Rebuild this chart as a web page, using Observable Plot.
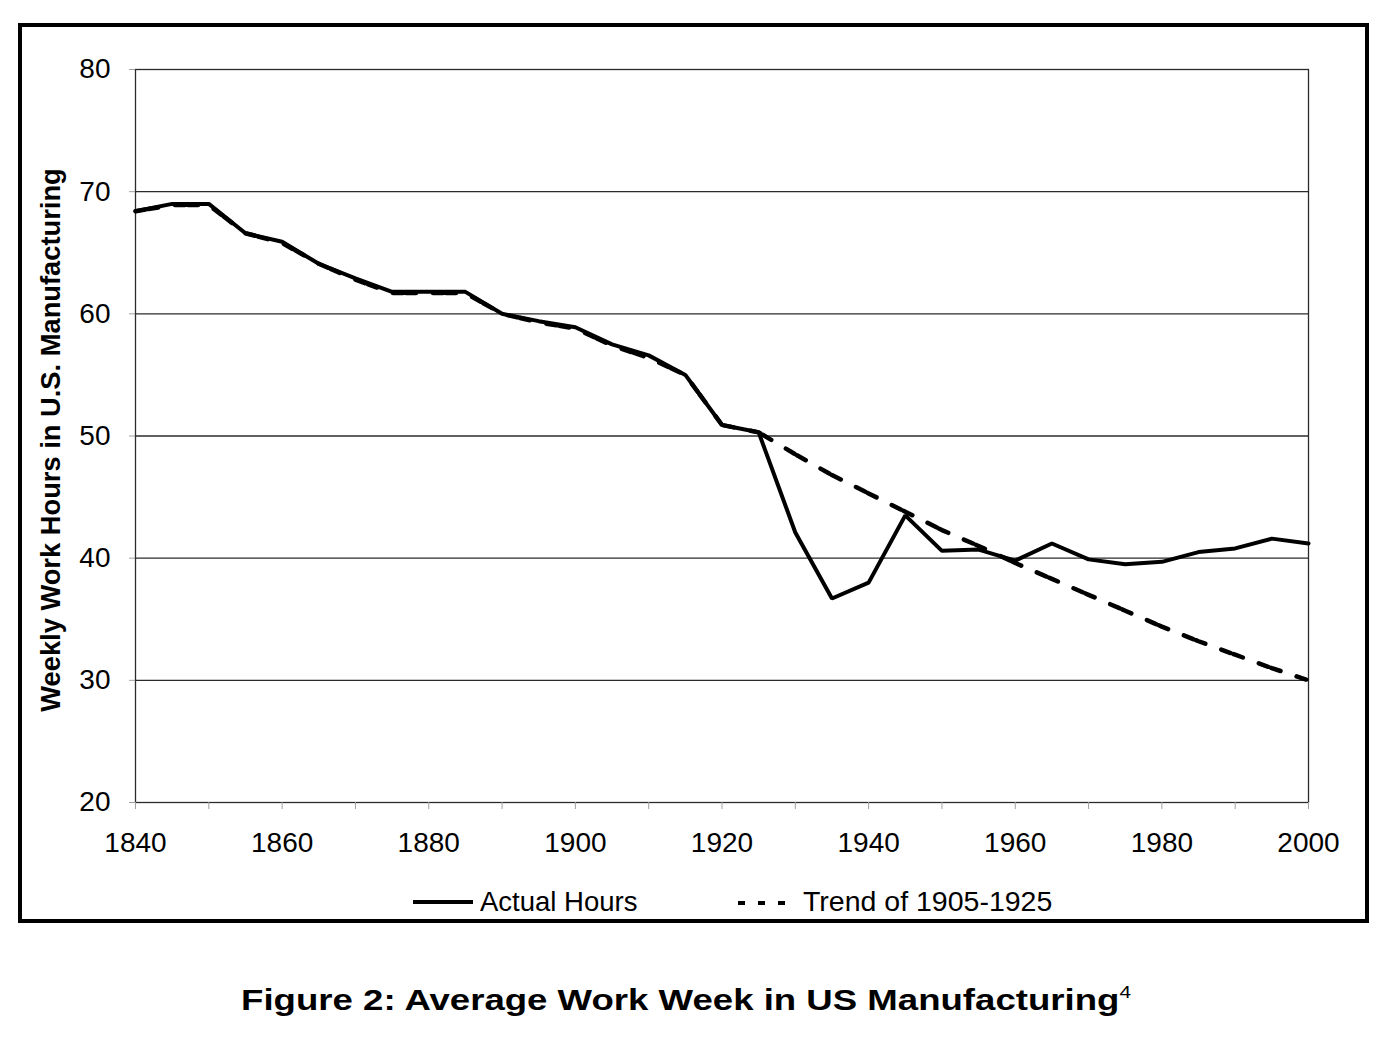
<!DOCTYPE html>
<html>
<head>
<meta charset="utf-8">
<script src="https://cdn.jsdelivr.net/npm/d3@7"></script>
<script src="https://cdn.jsdelivr.net/npm/@observablehq/plot@0.6"></script>
<style>
  html, body { margin: 0; padding: 0; background: #fff; }
  body { width: 1392px; height: 1039px; position: relative; overflow: hidden; font-family: "Liberation Sans", Arial, sans-serif; }
  #chart { position: absolute; left: 0; top: 0; }
  #overlay { position: absolute; left: 0; top: 0; pointer-events: none; }
</style>
</head>
<body>
<div id="chart"></div>
<svg id="overlay" width="1392" height="1039"></svg>
<script>
// ---- data ----
const years = [1840,1845,1850,1855,1860,1865,1870,1875,1880,1885,1890,1895,1900,1905,1910,1915,1920,1925,1930,1935,1940,1945,1950,1955,1960,1965,1970,1975,1980,1985,1990,1995,2000];
const actualHours = [68.4,69.0,69.0,66.6,65.9,64.1,62.9,61.8,61.8,61.8,60.0,59.4,58.9,57.5,56.6,55.0,50.9,50.3,42.1,36.7,38.0,43.5,40.6,40.7,39.8,41.2,39.9,39.5,39.7,40.5,40.8,41.6,41.2];
const trendHours = [68.4,68.9,68.9,66.6,65.8,64.1,62.8,61.7,61.7,61.7,60.0,59.3,58.8,57.4,56.4,55.0,50.9,50.3,48.5,46.8,45.3,43.8,42.3,41.0,39.6,38.3,37.0,35.7,34.4,33.2,32.1,31.0,30.0];
const xTicks = [1840,1850,1860,1870,1880,1890,1900,1910,1920,1930,1940,1950,1960,1970,1980,1990,2000];
const yTicks = [20,30,40,50,60,70,80];
const gridValues = [30,40,50,60,70];
const yTitle = "Weekly Work Hours in U.S. Manufacturing";
const seriesNames = ["Actual Hours", "Trend of 1905-1925"];
const figTitle = "Figure 2: Average Work Week in US Manufacturing";
const figNote = "4";

const actual = years.map((y, i) => ({year: y, hours: actualHours[i]}));
const trend = years.map((y, i) => ({year: y, hours: trendHours[i]}));

const chart = Plot.plot({
  width: 1392,
  height: 880,
  marginLeft: 135,
  marginRight: 84,
  marginTop: 69,
  marginBottom: 78,
  style: {fontFamily: "'Liberation Sans', Arial, sans-serif", fontSize: "28px", color: "#000", background: "transparent"},
  x: {domain: [1840, 2000]},
  y: {domain: [20, 80]},
  marks: [
    Plot.ruleY(gridValues, {stroke: "#2b2b2b", strokeWidth: 1.3}),
    Plot.frame({stroke: "#2b2b2b", strokeWidth: 1.3}),
    Plot.axisY({ticks: yTicks, tickSize: 6, tickPadding: 19, stroke: "#a0a0a0", fill: "#000", fontSize: 28, label: null}),
    Plot.axisX({ticks: xTicks, tickFormat: d => d % 20 === 0 ? String(d) : "", tickSize: 7, tickPadding: 23, stroke: "#a0a0a0", fill: "#000", fontSize: 28, label: null}),
    Plot.line(trend, {x: "year", y: "hours", stroke: "#000", strokeWidth: 4.5, strokeDasharray: "10,3,10,17", strokeLinejoin: "miter"}),
    Plot.line(actual, {x: "year", y: "hours", stroke: "#000", strokeWidth: 4, strokeLinejoin: "miter"})
  ]
});
document.getElementById("chart").appendChild(chart);

// ---- overlay: border, axis title, legend, figure title ----
const svg = d3.select("#overlay");
svg.append("rect").attr("x", 20).attr("y", 25).attr("width", 1347).attr("height", 896)
  .attr("fill", "none").attr("stroke", "#000").attr("stroke-width", 4);

svg.append("text")
  .attr("transform", "translate(60,440) rotate(-90)")
  .attr("text-anchor", "middle")
  .attr("font-family", "'Liberation Sans', Arial, sans-serif")
  .attr("font-weight", "bold").attr("font-size", 27.3)
  .text(yTitle);

// legend
svg.append("line").attr("x1", 413).attr("x2", 473).attr("y1", 902).attr("y2", 902)
  .attr("stroke", "#000").attr("stroke-width", 4);
svg.append("text").attr("x", 480).attr("y", 911)
  .attr("font-family", "'Liberation Sans', Arial, sans-serif").attr("font-size", 27.5)
  .text(seriesNames[0]);
svg.append("line").attr("x1", 738).attr("x2", 796).attr("y1", 903).attr("y2", 903)
  .attr("stroke", "#000").attr("stroke-width", 4).attr("stroke-dasharray", "7,13");
svg.append("text").attr("x", 803).attr("y", 911)
  .attr("font-family", "'Liberation Sans', Arial, sans-serif").attr("font-size", 28.5)
  .text(seriesNames[1]);

// figure title
const t = svg.append("text")
  .attr("transform", "translate(686,1010) scale(1.22,1)")
  .attr("text-anchor", "middle")
  .attr("font-family", "'Liberation Sans', Arial, sans-serif")
  .attr("font-weight", "bold").attr("font-size", 30);
t.append("tspan").text(figTitle);
t.append("tspan").attr("font-size", 17).attr("dy", -12).attr("font-weight", "normal").text(figNote);
</script>
</body>
</html>
